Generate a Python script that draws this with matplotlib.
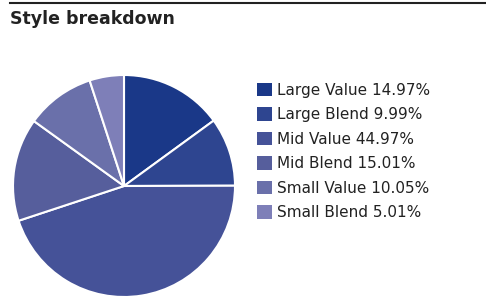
import matplotlib
matplotlib.use("Agg")
import matplotlib.pyplot as plt
from matplotlib.patches import Patch

# style breakdown shares (%)
labels = ["Large Value", "Large Blend", "Mid Value", "Mid Blend", "Small Value", "Small Blend"]
shares = [14.97, 9.99, 44.97, 15.01, 10.05, 5.01]
colours = ["#1a3888", "#2e4590", "#455298", "#565e9c", "#6a70aa", "#7e7fb8"]

W, H = 486, 301
fig = plt.figure(figsize=(W / 100, H / 100), dpi=100)

# rule across the top + title
fig.add_artist(plt.Line2D([10 / W, 1], [1 - 3 / H, 1 - 3 / H], color="#222222", lw=1.5))
fig.text(10 / W, 1 - 19 / H, "Style breakdown", fontsize=12.5, fontweight="bold",
         color="#222222", va="center", ha="left", family="DejaVu Sans")

ax = fig.add_axes([13 / W, 4 / H, 222 / W, 222 / H])
wedges, _ = ax.pie(shares, colors=colours, startangle=90, counterclock=False,
                   wedgeprops=dict(edgecolor="white", linewidth=1.5))
ax.set_aspect("equal")
ax.set_xlim(-1, 1)
ax.set_ylim(-1, 1)

handles = [Patch(facecolor=c, edgecolor="none") for c in colours]
legend_labels = [f"{l} {s:.2f}%" for l, s in zip(labels, shares)]
fig.legend(handles, legend_labels, loc="upper left", bbox_to_anchor=(249 / W, 1 - 75 / H),
           frameon=False, fontsize=11, handlelength=1.0, handleheight=1.0,
           handletextpad=0.3, labelspacing=0.62, borderpad=0, labelcolor="#222222")

fig.savefig("out.png", dpi=100)
